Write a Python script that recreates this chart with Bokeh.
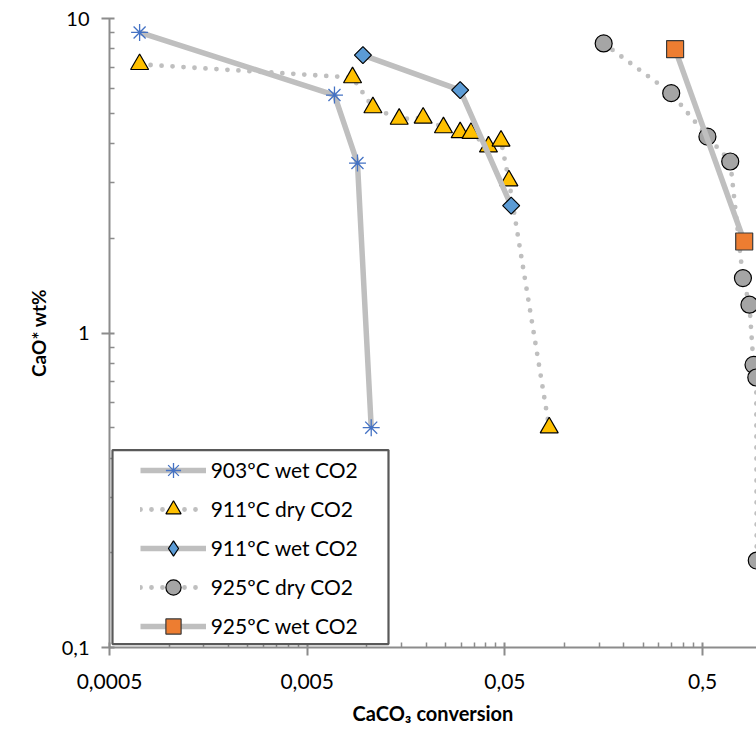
import numpy as np
from bokeh.plotting import figure
from bokeh.models import FixedTicker, Legend, LegendItem, BoxAnnotation
from bokeh.embed import file_html
from bokeh.resources import INLINE

# ---------------- data ----------------
x_903_wet = [0.00071, 0.00687, 0.00898, 0.01054]
y_903_wet = [9.03, 5.71, 3.47, 0.50]

x_911_dry = [0.00071, 0.00848, 0.01075, 0.0146, 0.0193, 0.02445, 0.0297,
             0.0337, 0.0413, 0.0478, 0.0524, 0.0838]
y_911_dry = [7.15, 6.49, 5.21, 4.79, 4.83, 4.50, 4.34, 4.32, 3.91, 4.08,
             3.05, 0.50]

x_911_wet = [0.00957, 0.0297, 0.0538]
y_911_wet = [7.65, 5.92, 2.54]

x_925_dry = [0.158, 0.347, 0.529, 0.69, 0.80, 0.863, 0.905, 0.935, 0.94]
y_925_dry = [8.33, 5.79, 4.21, 3.51, 1.495, 1.23, 0.792, 0.722, 0.189]

x_925_wet = [0.363, 0.812]
y_925_wet = [7.99, 1.954]

series_labels = ["903ºC wet CO2", "911ºC dry CO2", "911ºC wet CO2",
                 "925ºC dry CO2", "925ºC wet CO2"]

x_major = [0.0005, 0.005, 0.05, 0.5]
x_tick_labels = ["0,0005", "0,005", "0,05", "0,5"]
y_major = [0.1, 1, 10]
y_tick_labels = ["0,1", "1", "10"]

x_title = "CaCO₃ conversion"
y_title = "CaO* wt%"

# ---------------- styles ----------------
FONT = "Lato"
LINE_GREY = "#BFBFBF"
AXIS_GREY = "#8C8C8C"

styles = [
    dict(dash="solid", marker="asterisk", fill="#4472C4", edge="#4472C4", size=17, angle=0.0, lw=1.3),
    dict(dash="dotted", marker="triangle", fill="#FFC000", edge="#000000", size=18, angle=0.0, lw=1.2),
    dict(dash="solid", marker="square", fill="#5B9BD5", edge="#000000", size=12, angle=np.pi / 4, lw=1.2),
    dict(dash="dotted", marker="circle", fill="#A5A5A5", edge="#000000", size=17, angle=0.0, lw=1.2),
    dict(dash="solid", marker="square", fill="#ED7D31", edge="#3A3A3A", size=17, angle=0.0, lw=1.2),
]
data = [(x_903_wet, y_903_wet), (x_911_dry, y_911_dry), (x_911_wet, y_911_wet),
        (x_925_dry, y_925_dry), (x_925_wet, y_925_wet)]

p = figure(width=756, height=735, x_axis_type="log", y_axis_type="log",
           x_range=(0.0005, 0.937), y_range=(0.1, 10),
           output_backend="svg", toolbar_location=None,
           min_border_left=109, min_border_right=0,
           min_border_top=18, min_border_bottom=88)
p.outline_line_color = None
p.xgrid.visible = False
p.ygrid.visible = False
p.background_fill_color = "white"
p.border_fill_color = "white"

items = []
for (xs, ys), st, lab in zip(data, styles, series_labels):
    if st["dash"] == "solid":
        lr = p.line(xs, ys, line_color=LINE_GREY, line_width=5.5, line_cap="butt", line_join="round")
    else:
        lr = p.line(xs, ys, line_color=LINE_GREY, line_width=4.8, line_dash="0 11", line_cap="round")
    legend_renderers = [lr]
    if st["angle"] != 0.0:
        # diamond shape for the legend swatch (legend swatches are drawn unrotated)
        dr = p.scatter(xs, ys, marker="diamond", size=1, fill_color=st["fill"],
                       line_color=st["edge"], line_width=st["lw"])
        legend_renderers.append(dr)
    mr = p.scatter(xs, ys, marker=st["marker"], size=st["size"], angle=st["angle"],
                   fill_color=st["fill"], line_color=st["edge"], line_width=st["lw"])
    if st["angle"] == 0.0:
        legend_renderers.append(mr)
    items.append(LegendItem(label=lab, renderers=legend_renderers))

# ---------------- axes ----------------
x_minor = [m * k for m in x_major for k in range(2, 10)]
y_minor = [m * k for m in y_major[:-1] for k in range(2, 10)]
p.xaxis.ticker = FixedTicker(ticks=x_major, minor_ticks=x_minor)
p.yaxis.ticker = FixedTicker(ticks=y_major, minor_ticks=y_minor)
p.xaxis.major_label_overrides = dict(zip(x_major, x_tick_labels))
p.yaxis.major_label_overrides = dict(zip(y_major, y_tick_labels))
p.xaxis.axis_label = x_title
p.yaxis.axis_label = y_title

for ax in (p.xaxis[0], p.yaxis[0]):
    ax.axis_line_color = AXIS_GREY
    ax.axis_line_width = 2
    ax.major_tick_line_color = AXIS_GREY
    ax.major_tick_line_width = 2
    ax.minor_tick_line_color = AXIS_GREY
    ax.minor_tick_line_width = 1.5
    ax.major_tick_in = 5
    ax.major_tick_out = 8
    ax.minor_tick_in = 5
    ax.minor_tick_out = 0
    ax.major_label_text_font = FONT
    ax.major_label_text_font_size = "20px"
    ax.major_label_text_color = "#000000"
    ax.axis_label_text_font = FONT
    ax.axis_label_text_font_style = "bold"
    ax.axis_label_text_color = "#000000"

p.xaxis.major_label_text_font_size = "21px"
p.xaxis.axis_label_text_font_size = "20px"
p.yaxis.axis_label_text_font_size = "19px"
p.xaxis.major_label_standoff = 18
p.xaxis.axis_label_standoff = 9
p.yaxis.major_label_standoff = 12
p.yaxis.axis_label_standoff = 9

# ---------------- legend ----------------
legend_box = BoxAnnotation(left=3, right=279, bottom=3.4, top=197.4,
                           left_units="screen", right_units="screen",
                           bottom_units="screen", top_units="screen",
                           fill_color="white", fill_alpha=1.0,
                           line_color="#595959", line_alpha=1.0, line_width=2.2,
                           level="overlay")
p.add_layout(legend_box)

legend = Legend(items=items, location=(30.7, 2.4), padding=0, spacing=1,
                glyph_width=66, glyph_height=38, label_height=38, label_standoff=5,
                border_line_color=None, background_fill_alpha=0, margin=0,
                label_text_font=FONT, label_text_font_size="21px",
                label_text_color="#000000")
p.add_layout(legend)

open("out.html", "w").write(file_html(p, INLINE))
